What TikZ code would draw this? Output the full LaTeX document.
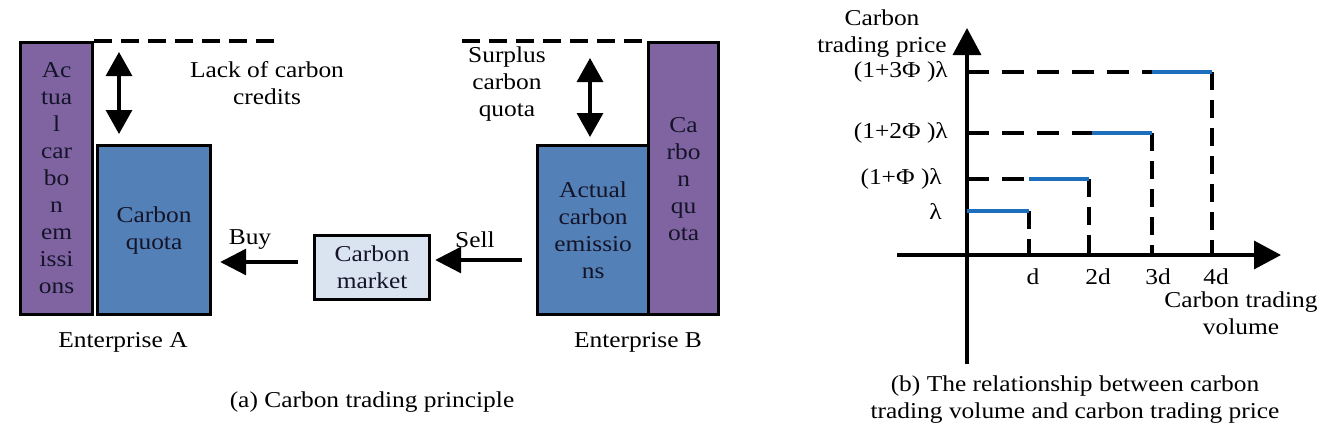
\documentclass[tikz,border=0pt]{standalone}
\usepackage{fontspec}
\setmainfont{Liberation Serif}[FakeStretch=1.12]
\usetikzlibrary{arrows.meta}
\definecolor{purp}{RGB}{128,100,162}
\definecolor{boxblue}{RGB}{84,128,184}
\definecolor{mkt}{RGB}{218,227,240}
\definecolor{lineblue}{RGB}{30,110,190}
\definecolor{inktext}{RGB}{20,20,40}
\begin{document}
\begin{tikzpicture}[x=1pt,y=-1pt,
  every node/.style={font=\fontsize{22.7}{27}\selectfont, inner sep=0pt},
  bar/.style={draw=black, line width=3.2pt, anchor=north west, align=center, text=inktext},
  lbl/.style={align=center},
  arr/.style={line width=3.2pt, -{Triangle[width=26pt,length=26pt]}},
  dblarr/.style={line width=3.2pt, {Triangle[width=26pt,length=24pt]}-{Triangle[width=26pt,length=24pt]}},
  axarr/.style={line width=3.4pt, -{Triangle[width=28pt,length=27pt]}},
  topdash/.style={line width=3.2pt, dash pattern=on 18pt off 9pt},
  chdash/.style={line width=3.2pt, dash pattern=on 22pt off 13pt},
  vdash/.style={line width=3.2pt, dash pattern=on 18pt off 10pt},
  stepline/.style={line width=3.4pt, draw=lineblue}]
\useasboundingbox (0,0) rectangle (1333,442);

% ---------- (a) ----------
\node[bar, fill=purp, minimum width=72, minimum height=272] (actA) at (19,41)
  {Ac\\tua\\l\\car\\bo\\n\\em\\issi\\ons};
\node[bar, fill=boxblue, minimum width=113, minimum height=169] (quotaA) at (96,144)
  {Carbon\\quota};
\node[bar, fill=mkt, minimum width=115, minimum height=64] (market) at (313,234)
  {Carbon\\market};
\node[bar, fill=boxblue, minimum width=111, minimum height=169] (actB) at (536,144)
  {Actual\\carbon\\emissio\\ns};
\node[bar, fill=purp, minimum width=70, minimum height=272] (quotaB) at (647,41)
  {Ca\\rbo\\n\\qu\\ota};

\coordinate (dashAend) at (283,41);
\coordinate (dashBstart) at (462,41);
\draw[topdash] (actA.north east) -- (dashAend);
\draw[topdash] (dashBstart) -- (quotaB.north west);

\coordinate (dA1) at (119,52);
\coordinate (dA2) at (119,134);
\coordinate (dB1) at (590,58);
\coordinate (dB2) at (590,137);
\draw[dblarr] (dA1) -- (dA2);
\draw[dblarr] (dB1) -- (dB2);

\draw[arr, shorten <=15pt, shorten >=8pt] (market.west |- 0,262) -- (quotaA.east |- 0,262);
\draw[arr, shorten <=14pt, shorten >=4pt] (actB.west |- 0,260) -- (market.east |- 0,260);

\node[lbl] (lack) at (267,83) {Lack of carbon\\credits};
\node[lbl] (surplus) at (507,84) {Surplus\\carbon\\quota};
\node (buy) at (250,240) {Buy};
\node (sell) at (475,240) {Sell};
\node (entA) at (123,342) {Enterprise A};
\node (entB) at (638,342) {Enterprise B};
\node (capA) at (372,402) {(a) Carbon trading principle};

% ---------- (b) ----------
\coordinate (O) at (967,255);
\coordinate (ybot) at (967,364);
\coordinate (ytop) at (967,28);
\coordinate (xleft) at (897,255);
\coordinate (xright) at (1281,255);
\draw[axarr] (ybot) -- (ytop);
\draw[axarr] (xleft) -- (xright);

% levels and breakpoints
\coordinate (L0) at (967,211);
\coordinate (L1) at (967,179);
\coordinate (L2) at (967,133);
\coordinate (L3) at (967,72);

\coordinate (a1) at (1029,211);
\coordinate (b0) at (1029,179);
\coordinate (b1) at (1089,179);
\coordinate (c0) at (1092,133);
\coordinate (c1) at (1152,133);
\coordinate (e0) at (1152,72);
\coordinate (e1) at (1212,72);

\coordinate (t1) at (1029,255);
\coordinate (t2) at (1089,255);
\coordinate (t3) at (1152,255);
\coordinate (t4) at (1212,255);

\draw[chdash] (L1) -- (b0);
\draw[chdash] (L2) -- (c0);
\draw[chdash] (L3) -- (e0);

\draw[vdash] (a1) -- (t1);
\draw[vdash] (b1) -- (t2);
\draw[vdash] (c1) -- (t3);
\draw[vdash] (e1) -- (t4);

\draw[stepline] (L0) -- (a1);
\draw[stepline] (b0) -- (b1);
\draw[stepline] (c0) -- (c1);
\draw[stepline] (e0) -- (e1);

\node[anchor=east] (lam3) at (948,72) {(1+3Φ )λ};
\node[anchor=east] (lam2) at (948,133) {(1+2Φ )λ};
\node[anchor=east] (lam1) at (942,179) {(1+Φ )λ};
\node[anchor=east] (lam0) at (942,212) {λ};

\node (td1) at (1033,277) {d};
\node (td2) at (1098,277) {2d};
\node (td3) at (1158,277) {3d};
\node (td4) at (1216,277) {4d};

\node[lbl] (ylab) at (882,34) {Carbon\\trading price};
\node[lbl] (xlab) at (1241,313) {Carbon trading\\volume};
\node[lbl] (capB) at (1075,400) {(b) The relationship between carbon\\trading volume and carbon trading price};
\end{tikzpicture}
\end{document}
